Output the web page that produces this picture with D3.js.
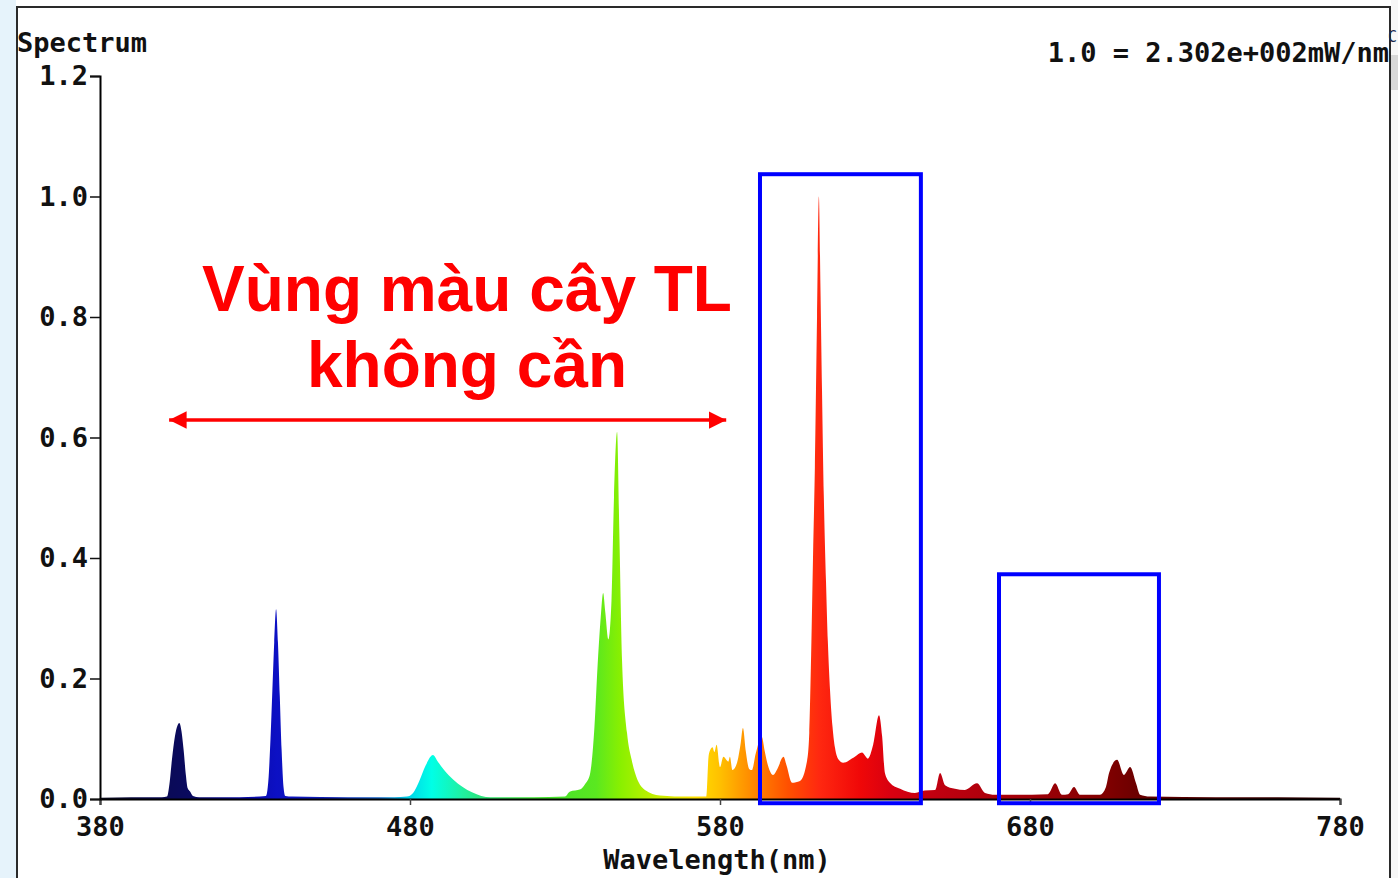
<!DOCTYPE html>
<html>
<head>
<meta charset="utf-8">
<script src="https://cdn.jsdelivr.net/npm/d3@7"></script>
<style>
  html, body { margin: 0; padding: 0; background: #ffffff; }
  svg { display: block; }
</style>
</head>
<body>
<svg id="chart" width="1398" height="878"></svg>
<script>
// ---------- data ----------
const wavelengths = [380,390,400,401.6,402.4,403.2,404.2,405,405.6,406.3,407,407.7,408.3,409,410,412,425,
  433.5,434.3,435,435.6,436.2,436.8,437.4,438,438.6,439.2,439.8,442,460,475,
  479,481,483,485,487.4,489,491,494,497,500,503,506,520,530,
  531.5,535,536.5,538,539.5,540.5,541.5,542.3,543,544,545,545.8,546.8,547.5,548.4,550,551.5,552.6,555.8,560.6,570,
  575.6,576.3,576.8,577.6,578.2,578.9,580,581.1,582.7,583.2,584,585.5,586.6,587.4,588.3,589.4,590.3,591.5,593.5,594.4,595.5,597.1,598.5,600.5,601.5,603.2,605.8,
  608.1,608.8,609.4,610,610.6,611.3,611.9,612.4,612.9,613.5,614.2,614.8,615.5,616.3,617.1,618.3,619.7,623.5,625.8,627.7,629.4,631.3,632.3,633.2,634.8,638.1,642.9,
  646,649.4,651,652.6,655.8,659,662.9,665.5,668.7,673.5,685.8,688.1,690.3,692.3,694.2,696.1,702.6,704.5,705.5,708.1,710.3,712.3,714.2,715.5,718.7,740,760,780];
const intensities = [0.002,0.003,0.003,0.004,0.025,0.065,0.105,0.122,0.126,0.112,0.08,0.04,0.018,0.013,0.005,0.003,0.003,
  0.005,0.03,0.1,0.18,0.26,0.315,0.26,0.17,0.08,0.02,0.005,0.004,0.003,0.003,
  0.004,0.01,0.03,0.055,0.073,0.062,0.048,0.032,0.02,0.011,0.005,0.003,0.003,0.004,
  0.012,0.016,0.025,0.04,0.12,0.22,0.3,0.342,0.31,0.265,0.33,0.5,0.609,0.45,0.23,0.11,0.065,0.043,0.015,0.006,0.004,
  0.004,0.07,0.081,0.086,0.078,0.09,0.053,0.07,0.062,0.07,0.048,0.06,0.09,0.118,0.08,0.05,0.048,0.075,0.103,0.08,0.055,0.04,0.05,0.07,0.055,0.027,0.03,
  0.064,0.11,0.24,0.4,0.55,0.8,1.0,0.85,0.68,0.5,0.36,0.26,0.18,0.12,0.085,0.065,0.06,0.07,0.077,0.067,0.09,0.139,0.104,0.043,0.027,0.017,0.01,
  0.014,0.015,0.043,0.023,0.017,0.015,0.026,0.01,0.007,0.007,0.008,0.026,0.007,0.008,0.02,0.007,0.007,0.02,0.043,0.065,0.04,0.053,0.026,0.007,0.004,0.003,0.003,0.002];

const xTicks = [380, 480, 580, 680, 780];
const yTicks = [0.0, 0.2, 0.4, 0.6, 0.8, 1.0, 1.2];

const stopWavelengths = [380,395,410,425,437,455,470,480,487,497,505,520,540,548,560,572,580,592,602,612,625,635,650,680,705,720,780];
const stopColors = ["#101020","#0a0a50","#0a0a60","#0a0aa0","#0c10c4","#1020b0","#1060c0","#00d8e8","#00ffe6","#20f0a0","#30e070","#40e030","#5ae820","#8af000","#c8f000","#ffe000","#ffc000","#ff8000","#ff5000","#ff2810","#f00808","#d80010","#c00010","#a00008","#800000","#600000","#200000"];

// annotation boxes in data units: [wlStart, wlEnd, valueTop, valueBottom]
const boxWlStart = [592.9, 670.0];
const boxWlEnd = [644.8, 721.6];
const boxTop = [1.037, 0.373];
const boxBottom = [-0.007, -0.007];

const arrowWl = [402.3, 582.0];
const arrowValue = 0.629;

const titleText = "Spectrum";
const scaleText = "1.0 = 2.302e+002mW/nm";
const xLabel = "Wavelength(nm)";
const noteLines = ["Vùng màu cây TL", "không cần"];

// ---------- drawing ----------
const svg = d3.select("#chart");
const W = 1398, H = 878;
const monoFont = "'DejaVu Sans Mono', monospace";

// background pieces (screenshot framing)
svg.append("rect").attr("x", 0).attr("y", 0).attr("width", W).attr("height", H).attr("fill", "#ffffff");
svg.append("rect").attr("x", 0).attr("y", 0).attr("width", 16).attr("height", H).attr("fill", "#e6f3fb");
svg.append("rect").attr("x", 1391).attr("y", 0).attr("width", 7).attr("height", H).attr("fill", "#f7f7f7");
svg.append("rect").attr("x", 17).attr("y", 7).attr("width", 1373).attr("height", H).attr("fill", "none")
  .attr("stroke", "#2a2a2a").attr("stroke-width", 2);
svg.append("rect").attr("x", 1391).attr("y", 55).attr("width", 7).attr("height", 35).attr("fill", "#d8d8d8");
svg.append("text").attr("x", 1388).attr("y", 42).attr("font-family", monoFont).attr("font-size", 15)
  .attr("fill", "#1a2a50").text("C");

const x = d3.scaleLinear().domain([380, 780]).range([100, 1340]);
const y = d3.scaleLinear().domain([0, 1.2]).range([799, 76]);

// gradient by wavelength
const defs = svg.append("defs");
const grad = defs.append("linearGradient").attr("id", "specGrad")
  .attr("gradientUnits", "userSpaceOnUse")
  .attr("x1", x(380)).attr("x2", x(780)).attr("y1", 0).attr("y2", 0);
stopWavelengths.forEach((wl, i) => {
  grad.append("stop").attr("offset", (wl - 380) / 400).attr("stop-color", stopColors[i]);
});

const pts = wavelengths.map((wl, i) => ({ wl, v: intensities[i] }));
const area = d3.area().x(d => x(d.wl)).y0(y(0)).y1(d => y(d.v)).curve(d3.curveMonotoneX);
svg.append("path").datum(pts).attr("d", area).attr("fill", "url(#specGrad)");

// axes
const xAxis = d3.axisBottom(x).tickValues(xTicks).tickSize(6).tickPadding(7).tickFormat(d3.format("d"));
const gx = svg.append("g").attr("transform", `translate(0,${y(0)})`).call(xAxis);
gx.select(".domain").attr("stroke", "#000").attr("stroke-width", 2);
gx.selectAll(".tick line").attr("stroke", "#444").attr("stroke-width", 1.5);
gx.selectAll(".tick text").attr("font-family", monoFont).attr("font-weight", "bold").attr("font-size", 27)
  .attr("fill", "#111").attr("dy", "0.9em");

const yAxis = d3.axisLeft(y).tickValues(yTicks).tickSize(10).tickPadding(2).tickFormat(d3.format(".1f"));
const gy = svg.append("g").attr("transform", `translate(${x(380)},0)`).call(yAxis);
gy.select(".domain").attr("stroke", "#000").attr("stroke-width", 2);
gy.selectAll(".tick line").attr("stroke", "#111").attr("stroke-width", 1.5);
gy.selectAll(".tick text").attr("font-family", monoFont).attr("font-weight", "bold").attr("font-size", 27)
  .attr("fill", "#111");

// titles
svg.append("text").attr("x", 17).attr("y", 52).attr("font-family", monoFont).attr("font-weight", "bold")
  .attr("font-size", 27).attr("fill", "#111").text(titleText);
svg.append("text").attr("x", 1389).attr("y", 62).attr("text-anchor", "end").attr("font-family", monoFont)
  .attr("font-weight", "bold").attr("font-size", 27).attr("fill", "#111").text(scaleText);
svg.append("text").attr("x", 717).attr("y", 869).attr("text-anchor", "middle").attr("font-family", monoFont)
  .attr("font-weight", "bold").attr("font-size", 27).attr("fill", "#111").text(xLabel);

// annotation boxes
boxWlStart.forEach((s, i) => {
  svg.append("rect")
    .attr("x", x(s)).attr("y", y(boxTop[i]))
    .attr("width", x(boxWlEnd[i]) - x(s)).attr("height", y(boxBottom[i]) - y(boxTop[i]))
    .attr("fill", "none").attr("stroke", "#0000ff").attr("stroke-width", 4);
});

// double arrow
defs.append("marker").attr("id", "ahEnd").attr("viewBox", "0 0 10 10").attr("refX", 10).attr("refY", 5)
  .attr("markerWidth", 5).attr("markerHeight", 5).attr("markerUnits", "strokeWidth").attr("orient", "auto")
  .append("path").attr("d", "M0,0 L10,5 L0,10 Z").attr("fill", "#ff0000");
defs.append("marker").attr("id", "ahStart").attr("viewBox", "0 0 10 10").attr("refX", 0).attr("refY", 5)
  .attr("markerWidth", 5).attr("markerHeight", 5).attr("markerUnits", "strokeWidth").attr("orient", "auto")
  .append("path").attr("d", "M10,0 L0,5 L10,10 Z").attr("fill", "#ff0000");
svg.append("line")
  .attr("x1", x(arrowWl[0])).attr("x2", x(arrowWl[1]))
  .attr("y1", y(arrowValue)).attr("y2", y(arrowValue))
  .attr("stroke", "#ff0000").attr("stroke-width", 3.5)
  .attr("marker-start", "url(#ahStart)").attr("marker-end", "url(#ahEnd)");

// note text
const noteY = [311, 387];
noteLines.forEach((t, i) => {
  svg.append("text").attr("x", 467).attr("y", noteY[i]).attr("text-anchor", "middle")
    .attr("font-family", "'Liberation Sans', Arial, sans-serif").attr("font-weight", "bold")
    .attr("font-size", 64).attr("fill", "#ff0000").text(t);
});
</script>
</body>
</html>
